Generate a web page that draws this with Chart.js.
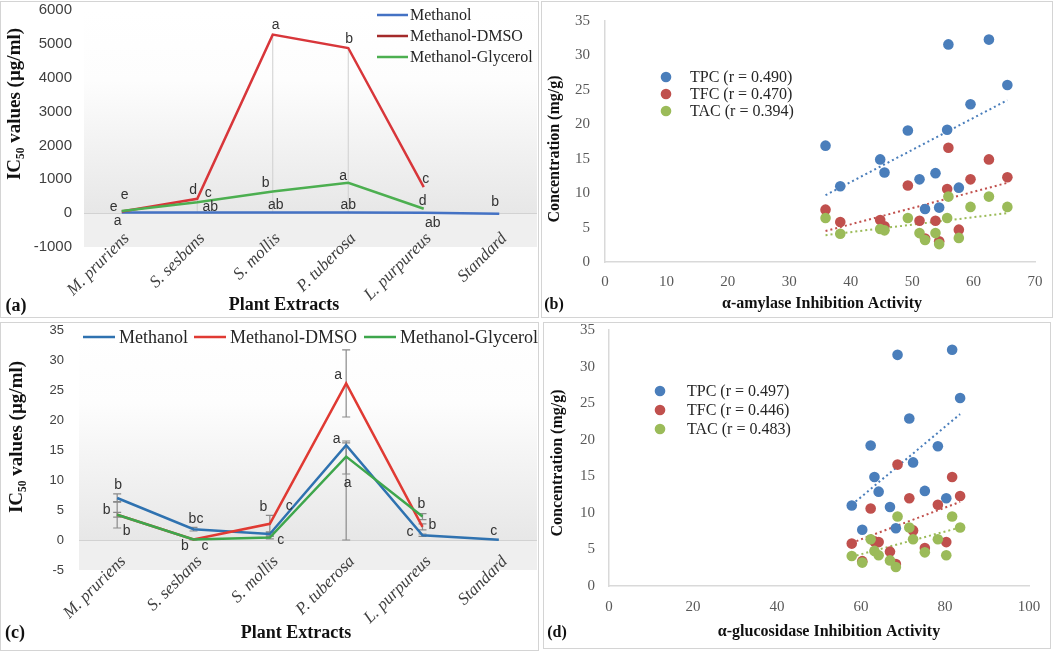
<!DOCTYPE html>
<html><head><meta charset="utf-8">
<script src="https://cdn.jsdelivr.net/npm/chart.js@4.4.1/dist/chart.umd.min.js"></script>
<style>
html,body{margin:0;padding:0;background:#fff;}
body{width:1054px;height:652px;position:relative;overflow:hidden;}
.panel{position:absolute;}
.frame{position:absolute;border:1px solid #d4d4d4;box-sizing:border-box;pointer-events:none;}
canvas{display:block;}
</style></head><body>
<div class="panel" style="left:0;top:0;width:540px;height:320px"><canvas id="ca" width="540" height="320"></canvas></div>
<div class="panel" style="left:540px;top:0;width:514px;height:320px"><canvas id="cb" width="514" height="320"></canvas></div>
<div class="panel" style="left:0;top:320px;width:540px;height:332px"><canvas id="cc" width="540" height="332"></canvas></div>
<div class="panel" style="left:540px;top:320px;width:514px;height:332px"><canvas id="cd" width="514" height="332"></canvas></div>
<div class="frame" style="left:0;top:1px;width:539px;height:317px"></div>
<div class="frame" style="left:541px;top:1px;width:512px;height:317px"></div>
<div class="frame" style="left:0;top:322px;width:539px;height:329px"></div>
<div class="frame" style="left:543px;top:322px;width:508px;height:327px"></div>
<script>
// ---------- DATA ----------
const plantExtracts = ['M. pruriens', 'S. sesbans', 'S. mollis', 'P. tuberosa', 'L. purpureus', 'Standard'];
const solventSeries = ['Methanol', 'Methanol-DMSO', 'Methanol-Glycerol'];

// (a) IC50 values (µg/ml)
const amylaseMethanol = [20, 20, 20, 20, 10, -20];
const amylaseDMSO = [50, 425, 5273, 4877, 769, null];
const amylaseGlycerol = [60, 320, 640, 898, 130, null];
const amylaseDMSOErrMinus = [0, 425, 5273, 4877, 0, null];
const amylaseMethanolLetters = ['a', 'ab', 'ab', 'ab', 'ab', 'b'];
const amylaseDMSOLetters = ['e', 'd', 'a', 'b', 'c', null];
const amylaseGlycerolLetters = ['e', 'c', 'b', 'a', 'd', null];

// (c) IC50 values (µg/ml)
const glucMethanol = [7.0, 1.8, 1.0, 15.8, 0.8, 0.05];
const glucDMSO = [4.2, 0.1, 2.7, 26.1, 2.2, null];
const glucGlycerol = [4.2, 0.1, 0.4, 13.9, 3.9, null];
const glucMethanolErrPlus = [0.7, 0.3, 0.3, 0.4, 0.2, 0];
const glucMethanolErrMinus = [0.7, 0.3, 0.3, 4.8, 0.2, 0];
const glucDMSOErr = [2.2, 0, 1.4, 5.6, 0.5, null];
const glucGlycerolErrPlus = [0.4, 0.1, 0.2, 2.6, 0.5, null];
const glucGlycerolErrMinus = [0.4, 0.1, 0.2, 13.9, 0.5, null];
const glucMethanolLetters = ['b', 'bc', 'c', 'a', 'c', 'c'];
const glucDMSOLetters = ['b', 'c', 'b', 'a', 'b', null];
const glucGlycerolLetters = ['b', 'b', 'c', 'a', 'b', null];

// (b),(d) correlations: 15 extracts
const constituents = ['TPC', 'TFC', 'TAC'];
const amylaseR = ['0.490', '0.470', '0.394'];
const glucosidaseR = ['0.497', '0.446', '0.483'];
const amylaseActivity = [35.9, 38.3, 44.8, 45.5, 49.3, 51.2, 52.1, 53.8, 54.4, 55.9, 55.7, 57.6, 59.5, 62.5, 65.5];
const glucosidaseActivity = [72.4, 57.8, 63.2, 75.2, 78.3, 80.3, 60.3, 64.2, 68.3, 68.7, 62.3, 66.9, 71.5, 81.7, 83.6];
const tpc = [16.9, 11.0, 14.9, 13.0, 19.1, 12.0, 7.7, 12.9, 7.9, 31.6, 19.2, 10.8, 22.9, 32.3, 25.7];
const tfc = [7.6, 5.8, 6.1, 5.2, 11.1, 6.0, 3.4, 6.0, 3.0, 16.6, 10.6, 4.7, 12.0, 14.9, 12.3];
const tac = [6.4, 4.1, 4.8, 4.6, 6.4, 4.2, 3.2, 4.2, 2.6, 9.5, 6.4, 3.5, 8.0, 9.5, 8.0];
// linear trendlines (end points)
const amylaseTrendX = [35.9, 65.5];
const amylaseTrendTPC = [9.7, 23.5];
const amylaseTrendTFC = [4.5, 11.5];
const amylaseTrendTAC = [3.9, 7.1];
const glucTrendX = [57.8, 83.6];
const glucTrendTPC = [11.1, 23.5];
const glucTrendTFC = [5.9, 11.5];
const glucTrendTAC = [4.0, 8.0];

// texts
const ic50Title = 'IC\u2085\u2080 values (\u00b5g/ml)';
const plantTitle = 'Plant Extracts';
const concTitle = 'Concentration (mg/g)';
const amylaseXTitle = '\u03b1-amylase Inhibition Activity';
const glucXTitle = '\u03b1-glucosidase Inhibition Activity';

// ---------- PLUGINS ----------
const bgPlugin = {
  id: 'panelBg',
  beforeDraw(chart, args, opts) {
    if (!opts || !opts.enabled) return;
    const {ctx, chartArea: a} = chart;
    const z = chart.scales.y.getPixelForValue(0);
    ctx.save();
    const g = ctx.createLinearGradient(0, a.top, 0, z);
    g.addColorStop(0, '#ffffff');
    g.addColorStop(0.35, '#fdfdfd');
    g.addColorStop(1, '#e7e7e7');
    ctx.fillStyle = g;
    ctx.fillRect(a.left, a.top, a.right - a.left, z - a.top);
    ctx.fillStyle = '#efefef';
    ctx.fillRect(a.left, z, a.right - a.left, a.bottom - z);
    ctx.restore();
  }
};
const errPlugin = {
  id: 'errBars',
  beforeDatasetsDraw(chart, args, opts) {
    if (!opts || !opts.color) return;
    const ctx = chart.ctx;
    chart.data.datasets.forEach((ds, di) => {
      if (!ds.errPlus && !ds.errMinus) return;
      const meta = chart.getDatasetMeta(di);
      const ys = chart.scales[meta.yAxisID];
      ctx.save();
      ctx.strokeStyle = opts.color; ctx.lineWidth = opts.width;
      meta.data.forEach((pt, i) => {
        const v = ds.data[i];
        if (v == null) return;
        const up = ds.errPlus ? (ds.errPlus[i] || 0) : 0;
        const dn = ds.errMinus ? (ds.errMinus[i] || 0) : 0;
        if (!up && !dn) return;
        const x = pt.x, y1 = ys.getPixelForValue(v + up), y2 = ys.getPixelForValue(v - dn);
        ctx.beginPath();
        ctx.moveTo(x, y1); ctx.lineTo(x, y2);
        if (opts.cap) {
          if (up) { ctx.moveTo(x - opts.cap, y1); ctx.lineTo(x + opts.cap, y1); }
          if (dn) { ctx.moveTo(x - opts.cap, y2); ctx.lineTo(x + opts.cap, y2); }
        }
        ctx.stroke();
      });
      ctx.restore();
    });
  }
};
const letterPlugin = {
  id: 'letterMarks',
  afterDatasetsDraw(chart, args, opts) {
    if (!opts || !opts.offsets) return;
    const ctx = chart.ctx;
    ctx.save();
    ctx.font = opts.font; ctx.fillStyle = opts.color;
    ctx.textAlign = 'center'; ctx.textBaseline = 'middle';
    chart.data.datasets.forEach((ds, di) => {
      if (!ds.letters) return;
      const meta = chart.getDatasetMeta(di);
      ds.letters.forEach((t, i) => {
        if (!t || ds.data[i] == null) return;
        const el = meta.data[i];
        const off = (opts.offsets[di] && opts.offsets[di][i]) || [0, 0];
        ctx.fillText(t, el.x + off[0], el.y + off[1]);
      });
    });
    ctx.restore();
  }
};
// rotated category labels, drawn from the chart's own labels at the x scale's pixels
const rotLabelPlugin = {
  id: 'rotLabels',
  afterDraw(chart, args, opts) {
    if (!opts || !opts.font) return;
    const xs = chart.scales.x, a = chart.chartArea, ctx = chart.ctx;
    ctx.save();
    ctx.font = opts.font; ctx.fillStyle = opts.color;
    ctx.textAlign = 'right'; ctx.textBaseline = 'middle';
    chart.data.labels.forEach((lab, i) => {
      ctx.save();
      ctx.translate(xs.getPixelForValue(i) + opts.dx, a.bottom + opts.dy);
      ctx.rotate(-opts.angle);
      ctx.fillText(lab, 0, 0);
      ctx.restore();
    });
    ctx.restore();
  }
};
const keyPlugin = {
  id: 'keyBox',
  afterDraw(chart, args, opts) {
    if (!opts || !opts.entries) return;
    const ctx = chart.ctx;
    ctx.save();
    ctx.font = opts.font; ctx.textBaseline = 'middle'; ctx.textAlign = 'left';
    opts.entries.forEach((e, i) => {
      const ds = chart.data.datasets[i];
      const c = ds.legendColor || ds.borderColor || ds.backgroundColor;
      if (opts.kind === 'line') {
        ctx.strokeStyle = c; ctx.lineWidth = opts.lineWidth;
        ctx.beginPath(); ctx.moveTo(e.x, e.y); ctx.lineTo(e.x + opts.lineLen, e.y); ctx.stroke();
        ctx.fillStyle = opts.color;
        ctx.fillText(ds.label, e.x + opts.lineLen + opts.gap, e.y + 1);
      } else {
        ctx.fillStyle = c;
        ctx.beginPath(); ctx.arc(e.x, e.y, opts.radius, 0, Math.PI * 2); ctx.fill();
        ctx.fillStyle = opts.color;
        ctx.fillText(ds.label, e.x + opts.gap, e.y + 1);
      }
    });
    ctx.restore();
  }
};
const decorPlugin = {
  id: 'decor',
  afterDraw(chart, args, opts) {
    if (!opts || !opts.texts) return;
    const ctx = chart.ctx;
    opts.texts.forEach(t => {
      ctx.save();
      ctx.font = t.font; ctx.fillStyle = t.color || '#111';
      ctx.textAlign = t.align || 'center'; ctx.textBaseline = 'middle';
      ctx.translate(t.x, t.y);
      if (t.rotate) ctx.rotate(t.rotate);
      ctx.fillText(t.text, 0, 0);
      ctx.restore();
    });
  }
};
const allPlugins = [bgPlugin, errPlugin, letterPlugin, rotLabelPlugin, keyPlugin, decorPlugin];

function fix(size, horizontal) {
  return s => {
    if (horizontal) s.height = size; else s.width = size;
    s.paddingLeft = 0; s.paddingRight = 0; s.paddingTop = 0; s.paddingBottom = 0;
  };
}
const zeroGrid = c => (c.tick && c.tick.value === 0) ? '#d2d2d2' : 'rgba(0,0,0,0)';
const plainNum = v => String(v);
const titleFont = 'bold 18px "Liberation Serif"';
const titleFontY = 'bold 19px "Liberation Serif"';
const titleFont16 = 'bold 16px "Liberation Serif"';
const pair = (xs, ys) => xs.map((x, i) => ({x: x, y: ys[i]}));

Chart.defaults.font.family = '"Liberation Serif"';

// ---------- (a) ----------
new Chart(document.getElementById('ca'), {
  type: 'line',
  data: {
    labels: plantExtracts,
    datasets: [
      {label: solventSeries[0], data: amylaseMethanol, borderColor: '#4472c4', letters: amylaseMethanolLetters, order: 3},
      {label: solventSeries[1], data: amylaseDMSO, borderColor: '#d8363a', legendColor: '#a42a2a', letters: amylaseDMSOLetters, errMinus: amylaseDMSOErrMinus, order: 2},
      {label: solventSeries[2], data: amylaseGlycerol, borderColor: '#4caf50', letters: amylaseGlycerolLetters, order: 1}
    ]
  },
  options: {
    responsive: false, animation: false,
    layout: {padding: {left: 0, right: 3, top: 10, bottom: 0}},
    elements: {line: {borderWidth: 2.5, tension: 0, fill: false}, point: {radius: 0, hoverRadius: 0}},
    scales: {
      x: {offset: true, grid: {display: false, drawTicks: false}, border: {display: false},
          ticks: {display: false},
          afterFit: fix(73, true)},
      y: {min: -1000, max: 6000,
          ticks: {stepSize: 1000, padding: 12, color: '#404040', font: {family: '"Liberation Sans"', size: 15}, callback: plainNum},
          grid: {drawTicks: false, color: zeroGrid, lineWidth: 1}, border: {display: false},
          afterFit: fix(84, false)}
    },
    plugins: {
      legend: {display: false}, tooltip: {enabled: false},
      panelBg: {enabled: true},
      errBars: {color: '#cfcfcf', width: 1, cap: 0},
      rotLabels: {font: 'italic 17px "Liberation Serif"', color: '#404040', dx: 5, dy: -11, angle: Math.PI / 4},
      letterMarks: {font: '14px "Liberation Sans"', color: '#333333', offsets: [
        [[-4, 9], [13, -5], [3, -7], [0, -7], [9, 10], [-4, -12]],
        [[-8, -4], [-4, -9], [3, -9], [1, -9], [2, -8]],
        [[3, -16], [11, -9], [-7, -8], [-5, -7], [-1, -8]]
      ]},
      keyBox: {kind: 'line', font: '16px "Liberation Serif"', color: '#262626', lineWidth: 2.5, lineLen: 31, gap: 2,
               entries: [{x: 377, y: 15}, {x: 377, y: 36}, {x: 377, y: 57}]},
      decor: {texts: [
        {text: ic50Title, x: 15, y: 104, rotate: -Math.PI / 2, font: titleFontY, color: '#111'},
        {text: plantTitle, x: 284, y: 305, font: titleFont, color: '#111'},
        {text: '(a)', x: 16, y: 306, font: titleFont, color: '#111'}
      ]}
    }
  },
  plugins: allPlugins
});

// ---------- (c) ----------
new Chart(document.getElementById('cc'), {
  type: 'line',
  data: {
    labels: plantExtracts,
    datasets: [
      {label: solventSeries[0], data: glucMethanol, borderColor: '#2f72b0', letters: glucMethanolLetters, errPlus: glucMethanolErrPlus, errMinus: glucMethanolErrMinus, order: 3},
      {label: solventSeries[1], data: glucDMSO, borderColor: '#e03a33', letters: glucDMSOLetters, errPlus: glucDMSOErr, errMinus: glucDMSOErr, order: 2},
      {label: solventSeries[2], data: glucGlycerol, borderColor: '#3ea64c', letters: glucGlycerolLetters, errPlus: glucGlycerolErrPlus, errMinus: glucGlycerolErrMinus, order: 1}
    ]
  },
  options: {
    responsive: false, animation: false,
    layout: {padding: {left: 0, right: 3, top: 10, bottom: 0}},
    elements: {line: {borderWidth: 2.5, tension: 0, fill: false}, point: {radius: 0, hoverRadius: 0}},
    scales: {
      x: {offset: true, grid: {display: false, drawTicks: false}, border: {display: false},
          ticks: {display: false},
          afterFit: fix(82, true)},
      y: {min: -5, max: 35,
          ticks: {stepSize: 5, padding: 15, color: '#404040', font: {family: '"Liberation Sans"', size: 13}, callback: plainNum},
          grid: {drawTicks: false, color: zeroGrid, lineWidth: 1}, border: {display: false},
          afterFit: fix(79, false)}
    },
    plugins: {
      legend: {display: false}, tooltip: {enabled: false},
      panelBg: {enabled: true},
      errBars: {color: '#8a8a8a', width: 1.2, cap: 4},
      rotLabels: {font: 'italic 17px "Liberation Serif"', color: '#404040', dx: 6, dy: -11, angle: Math.PI / 4},
      letterMarks: {font: '14px "Liberation Sans"', color: '#333333', offsets: [
        [[1, -13], [2.5, -10], [19.5, -28], [-9.5, -6], [-12.5, -3], [-5, -9]],
        [[-10.5, -5], [11.5, 7], [-6.5, -17], [-8, -8], [10, -2]],
        [[9.5, 16], [-8.5, 7], [11, 3], [1.5, 27], [-1, -12]]
      ]},
      keyBox: {kind: 'line', font: '18px "Liberation Serif"', color: '#262626', lineWidth: 2.5, lineLen: 32, gap: 4,
               entries: [{x: 83, y: 17}, {x: 194, y: 17}, {x: 364, y: 17}]},
      decor: {texts: [
        {text: ic50Title, x: 17, y: 117, rotate: -Math.PI / 2, font: titleFontY, color: '#111'},
        {text: plantTitle, x: 296, y: 313, font: titleFont, color: '#111'},
        {text: '(c)', x: 15, y: 313, font: titleFont, color: '#111'}
      ]}
    }
  },
  plugins: allPlugins
});

// ---------- scatter panels ----------
const dotColors = ['#4a7ebb', '#c0504d', '#9bbb59'];
function scatterPanel(id, xs, rs, trendX, trends, xMax, xStep, geom, texts, keyEntries, keyGap) {
  const series = [tpc, tfc, tac];
  const ds = series.map((ys, k) => ({
    label: constituents[k] + ' (r = ' + rs[k] + ')',
    data: pair(xs, ys), backgroundColor: dotColors[k], borderColor: dotColors[k],
    pointRadius: 5.3, pointHoverRadius: 5.3, pointBorderWidth: 0, order: 3 - k
  }));
  trends.forEach((t, k) => ds.push({
    type: 'line', data: pair(trendX, t), borderColor: dotColors[k], borderWidth: 2,
    borderDash: [2, 3], pointRadius: 0, fill: false, order: 10
  }));
  new Chart(document.getElementById(id), {
    type: 'scatter',
    data: {datasets: ds},
    options: {
      responsive: false, animation: false,
      layout: {padding: {left: 0, right: geom.right, top: geom.top, bottom: 0}},
      scales: {
        x: {type: 'linear', min: 0, max: xMax,
            ticks: {stepSize: xStep, padding: geom.xPad, color: '#595959', font: {family: '"Liberation Serif"', size: 15}},
            grid: {display: false, drawTicks: false}, border: {display: true, color: '#d9d9d9', width: 1.5},
            afterFit: fix(geom.xH, true)},
        y: {min: 0, max: 35,
            ticks: {stepSize: 5, padding: geom.yPad, color: '#595959', font: {family: '"Liberation Serif"', size: 15}},
            grid: {display: false, drawTicks: false}, border: {display: true, color: '#d9d9d9', width: 1.5},
            afterFit: fix(geom.yW, false)}
      },
      plugins: {
        legend: {display: false}, tooltip: {enabled: false},
        keyBox: {kind: 'dot', font: '16px "Liberation Serif"', color: '#262626', radius: 5.3, gap: keyGap, entries: keyEntries},
        decor: {texts: texts}
      }
    },
    plugins: allPlugins
  });
}

scatterPanel('cb', amylaseActivity, amylaseR, amylaseTrendX, [amylaseTrendTPC, amylaseTrendTFC, amylaseTrendTAC], 70, 10,
  {right: 19, top: 21, xH: 58, yW: 65, xPad: 11, yPad: 15},
  [
    {text: concTitle, x: 15, y: 149, rotate: -Math.PI / 2, font: titleFont16, color: '#111'},
    {text: amylaseXTitle, x: 282, y: 304, font: titleFont16, color: '#111'},
    {text: '(b)', x: 14, y: 305, font: titleFont16, color: '#111'}
  ],
  [{x: 126, y: 77}, {x: 126, y: 94}, {x: 126, y: 111}], 24);

scatterPanel('cd', glucosidaseActivity, glucosidaseR, glucTrendX, [glucTrendTPC, glucTrendTFC, glucTrendTAC], 100, 20,
  {right: 25, top: 10, xH: 66, yW: 69, xPad: 12, yPad: 14},
  [
    {text: concTitle, x: 18, y: 143, rotate: -Math.PI / 2, font: titleFont16, color: '#111'},
    {text: glucXTitle, x: 289, y: 312, font: titleFont16, color: '#111'},
    {text: '(d)', x: 17, y: 313, font: titleFont16, color: '#111'}
  ],
  [{x: 120, y: 71}, {x: 120, y: 90}, {x: 120, y: 109}], 27);
</script>
</body></html>
